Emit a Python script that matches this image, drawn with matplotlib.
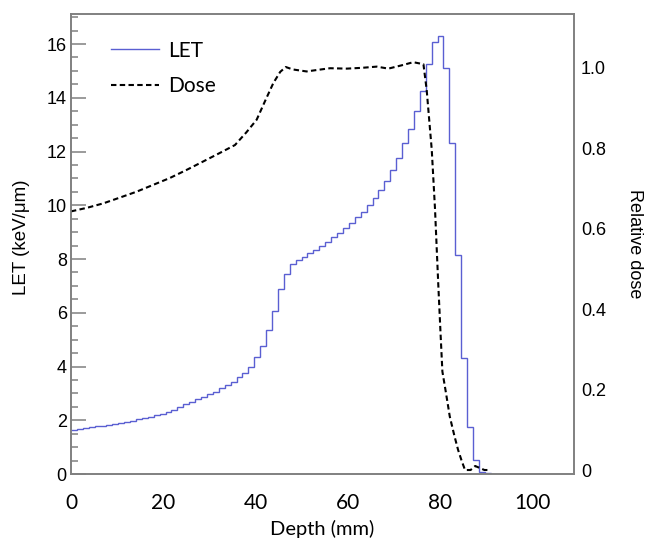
import numpy as np
import matplotlib
matplotlib.use("Agg")
import matplotlib.pyplot as plt

# LET histogram (keV/um), one value per depth bin
bin_width = 1.28
let_values = [1.65, 1.68, 1.71, 1.74, 1.77, 1.80, 1.83, 1.87, 1.91, 1.95,
              1.99, 2.03, 2.08, 2.13, 2.18, 2.24, 2.31, 2.40, 2.50, 2.59,
              2.69, 2.79, 2.88, 2.98, 3.06, 3.19, 3.31, 3.44, 3.60, 3.77,
              3.99, 4.37, 4.76, 5.36, 6.08, 6.87, 7.44, 7.80, 7.96, 8.06,
              8.21, 8.33, 8.48, 8.64, 8.83, 8.98, 9.14, 9.33, 9.57, 9.76,
              10.01, 10.26, 10.57, 10.91, 11.31, 11.75, 12.30, 12.84, 13.52, 14.26,
              15.24, 16.09, 16.31, 15.09, 12.30, 8.15, 4.30, 1.76, 0.52, 0.09,
              0.03, 0.0]

# relative dose curve
dose_depth = [0, 3.5, 7.0, 10.5, 14.2, 17.8, 21.4, 25.0, 28.6, 32.0,
              35.5, 38.0, 40.2, 42.0, 43.8, 45.3, 46.5, 48.0, 51.0, 53.5,
              56.1, 59.7, 63.0, 66.2, 68.7, 71.5, 74.1, 76.3, 77.0, 78.1,
              78.8, 79.5, 80.0, 80.4, 81.2, 82.0, 83.0, 83.8, 84.6, 85.3,
              86.5, 87.5, 88.5, 89.5, 90.5]
dose_values = [0.643, 0.652, 0.663, 0.677, 0.692, 0.709, 0.726, 0.746, 0.767, 0.787,
               0.808, 0.84, 0.871, 0.917, 0.962, 0.990, 1.002, 0.996, 0.991, 0.995,
               0.999, 0.998, 1.000, 1.003, 0.998, 1.006, 1.014, 1.009, 0.945, 0.796,
               0.65, 0.464, 0.34, 0.245, 0.19, 0.133, 0.085, 0.05, 0.022, 0.0,
               0.0, 0.01, 0.005, 0.0, 0.0]

edges = np.arange(len(let_values) + 1) * bin_width

frame_col = '#808080'
let_col = '#5a5fd2'
sans = ['Liberation Sans', 'DejaVu Sans']
humanist = ['Lato', 'DejaVu Sans']

fig = plt.figure(figsize=(6.45, 5.4), dpi=100)
ax = fig.add_axes([0.110, 0.1222, 0.780, 0.852])
ax2 = ax.twinx()

l1 = ax.stairs(let_values, edges, baseline=None, color=let_col, lw=1.0, label='LET')
l2, = ax2.plot(dose_depth, dose_values, color='black', lw=1.5, ls=(0, (2.6, 1.6)), label='Dose')

ax.set_xlim(0, 108.9)
ax.set_ylim(0, 17.12)
ax2.set_ylim(-0.00995, 1.134)

ax.set_xticks([0, 20, 40, 60, 80, 100])
ax.set_yticks(np.arange(0, 17, 2))
ax.set_yticks(np.arange(0, 17.1, 0.5), minor=True)
ax2.set_yticks([0, 0.2, 0.4, 0.6, 0.8, 1.0])
ax2.set_yticklabels(['0', '0.2', '0.4', '0.6', '0.8', '1.0'])

ax.tick_params(axis='y', which='major', direction='in', length=11, width=1.1,
               color=frame_col, pad=3, labelsize=13)
ax.tick_params(axis='y', which='minor', direction='in', length=5, width=1.1,
               color=frame_col)
ax.tick_params(axis='x', length=0, pad=14, labelsize=15)
ax2.tick_params(axis='y', length=0, pad=5, labelsize=13)

for lab in ax.get_yticklabels() + ax2.get_yticklabels():
    lab.set_family(sans)
for lab in ax.get_xticklabels():
    lab.set_family(humanist)

for a in (ax, ax2):
    for sp in a.spines.values():
        sp.set_color(frame_col)
        sp.set_linewidth(1.2)

ax.set_xlabel('Depth (mm)', family=humanist, fontsize=14.5, labelpad=5)
ax.set_ylabel('LET (keV/\u03bcm)', family=sans, fontsize=13.5)
ax.yaxis.set_label_coords(-0.081, 0.515)
ax2.set_ylabel('Relative dose', family=sans, fontsize=13, rotation=270)
ax2.yaxis.set_label_coords(1.138, 0.5)

ax2.legend([l1, l2], ['LET', 'Dose'], loc='upper left', bbox_to_anchor=(0.080, 0.942),
           frameon=False, prop={'family': humanist, 'size': 15},
           handlelength=2.3, handletextpad=0.45, labelspacing=0.75,
           borderpad=0, borderaxespad=0)

fig.savefig('out.png', dpi=100)
